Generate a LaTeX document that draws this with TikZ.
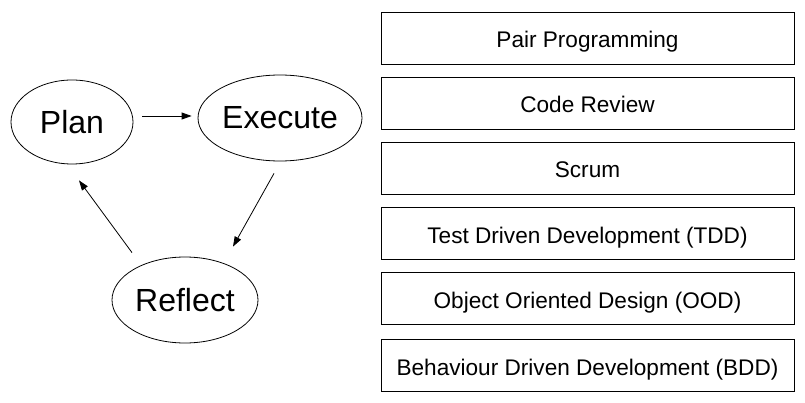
\documentclass[tikz,border=0pt]{standalone}
\usepackage{fontspec}
\setmainfont{Liberation Sans}
\usetikzlibrary{shapes.geometric,arrows.meta}
\begin{document}
\begin{tikzpicture}[x=1pt,y=-1pt,
  stage/.style={draw=black,line width=0.8pt,ellipse,inner sep=0pt,font=\fontsize{32}{38}\selectfont},
  practice/.style={draw=black,line width=0.8pt,rectangle,inner sep=0pt,minimum width=413pt,minimum height=52pt,text height=20pt,text depth=0pt,font=\fontsize{22.6}{27}\selectfont},
  arr/.style={line width=0.8pt,-{Triangle[length=10pt,width=7pt]}}]
\useasboundingbox (0,0) rectangle (805,403);
\node[stage,minimum width=122pt,minimum height=84pt] (plan) at (72,122) {Plan};
\node[stage,minimum width=164pt,minimum height=86pt] (execute) at (280,118) {Execute};
\node[stage,minimum width=146pt,minimum height=86pt] (reflect) at (185,300) {Reflect};
\draw[arr] ([shift={(9,-6)}]plan.east) -- ([shift={(-6,-2)}]execute.west);
\draw[arr] ([shift={(-6,12)}]execute.south) -- ([shift={(48,-10)}]reflect.north);
\draw[arr] ([shift={(-53,-4)}]reflect.north) -- ([shift={(7,16)}]plan.south);
\node[practice] (p1) at (587.5,38) {Pair Programming};
\node[practice] (p2) at (587.5,103) {Code Review};
\node[practice] (p3) at (587.5,168) {Scrum};
\node[practice] (p4) at (587.5,233.5) {Test Driven Development (TDD)};
\node[practice] (p5) at (587.5,298.5) {Object Oriented Design (OOD)};
\node[practice] (p6) at (587.5,365) {Behaviour Driven Development (BDD)};
\end{tikzpicture}
\end{document}
